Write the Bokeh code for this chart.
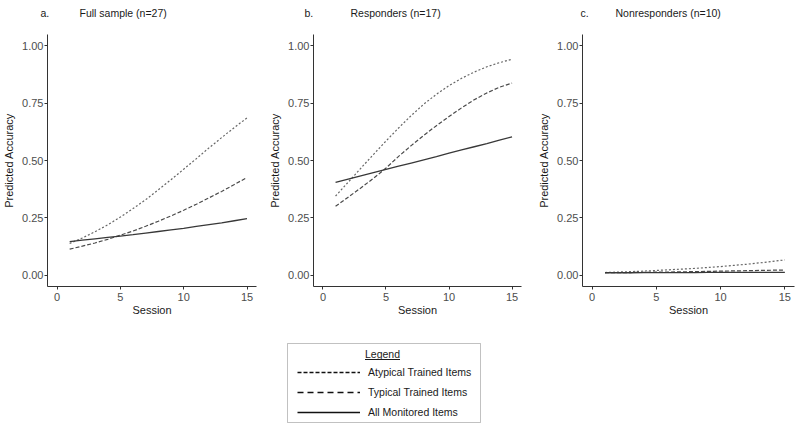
import math
from bokeh.plotting import figure
from bokeh.models import (Range1d, FixedTicker, Label, Legend, LegendItem,
                          BoxAnnotation)
from bokeh.layouts import row, column
from bokeh.embed import file_html
from bokeh.resources import INLINE

# ---------------- data ----------------
sessions = [1, 2, 3, 4, 5, 6, 7, 8, 9, 10, 11, 12, 13, 14, 15]

a_atypical = [0.138, 0.162, 0.189, 0.219, 0.253, 0.290, 0.329, 0.372, 0.416, 0.462, 0.508, 0.555, 0.600, 0.644, 0.686]
a_typical = [0.113, 0.126, 0.140, 0.156, 0.174, 0.192, 0.213, 0.235, 0.258, 0.283, 0.309, 0.337, 0.365, 0.395, 0.426]
a_all = [0.146, 0.152, 0.158, 0.164, 0.170, 0.176, 0.183, 0.190, 0.197, 0.204, 0.212, 0.220, 0.228, 0.237, 0.246]

b_atypical = [0.345, 0.405, 0.466, 0.526, 0.585, 0.642, 0.696, 0.746, 0.789, 0.827, 0.859, 0.886, 0.909, 0.927, 0.942]
b_typical = [0.300, 0.340, 0.380, 0.422, 0.467, 0.518, 0.565, 0.610, 0.652, 0.692, 0.730, 0.765, 0.795, 0.820, 0.838]
b_all = [0.405, 0.419, 0.433, 0.447, 0.461, 0.475, 0.489, 0.503, 0.517, 0.532, 0.546, 0.560, 0.574, 0.589, 0.603]

c_atypical = [0.011, 0.013, 0.015, 0.017, 0.020, 0.023, 0.026, 0.029, 0.033, 0.037, 0.042, 0.047, 0.053, 0.059, 0.066]
c_typical = [0.010, 0.011, 0.011, 0.012, 0.013, 0.013, 0.014, 0.015, 0.016, 0.017, 0.018, 0.019, 0.020, 0.021, 0.022]
c_all = [0.010, 0.010, 0.010, 0.011, 0.011, 0.011, 0.011, 0.011, 0.012, 0.012, 0.012, 0.012, 0.012, 0.012, 0.012]

panel_letters = ["a.", "b.", "c."]
panel_titles = ["Full sample (n=27)", "Responders (n=17)", "Nonresponders (n=10)"]
series_names = ["Atypical Trained Items", "Typical Trained Items", "All Monitored Items"]
x_ticks = [0, 5, 10, 15]
y_ticks = [0.0, 0.25, 0.5, 0.75, 1.0]
y_tick_labels = ["0.00", "0.25", "0.50", "0.75", "1.00"]
x_label = "Session"
y_label = "Predicted Accuracy"
legend_title = "Legend"

FONT = "Liberation Sans"
TOTAL_W = 800

line_styles = [
    dict(line_color="#666666", line_width=1.2, line_dash="2 2"),
    dict(line_color="#4a4a4a", line_width=1.2, line_dash="4 2"),
    dict(line_color="#383838", line_width=1.3, line_dash="solid"),
]
legend_styles = [
    dict(line_color="#111111", line_width=1.5, line_dash="4 2"),
    dict(line_color="#111111", line_width=1.5, line_dash="6 4"),
    dict(line_color="#111111", line_width=1.6, line_dash="solid"),
]

PANEL_H = 299


def make_panel(series, width, b_left, b_right):
    p = figure(width=width, height=PANEL_H, output_backend="svg",
               toolbar_location=None, x_range=Range1d(-0.75, 15.75),
               y_range=Range1d(-0.05, 1.05),
               min_border_left=b_left, min_border_right=b_right,
               min_border_top=8, min_border_bottom=39)
    p.outline_line_color = None
    p.grid.visible = False

    for ax in (p.xaxis[0], p.yaxis[0]):
        ax.axis_line_color = "#333333"
        ax.axis_line_width = 1
        ax.major_tick_line_color = "#333333"
        ax.major_tick_out = 3
        ax.major_tick_in = 0
        ax.minor_tick_line_color = None
        ax.major_label_text_font = FONT
        ax.major_label_text_font_size = "11px"
        ax.major_label_text_color = "#4d4d4d"
        ax.axis_label_text_font = FONT
        ax.axis_label_text_font_size = "11px"
        ax.axis_label_text_font_style = "normal"
        ax.axis_label_text_color = "#1a1a1a"

    p.xaxis.ticker = FixedTicker(ticks=x_ticks)
    p.yaxis.ticker = FixedTicker(ticks=y_ticks)
    p.yaxis.major_label_overrides = {t: l for t, l in zip(y_ticks, y_tick_labels)}
    p.xaxis.axis_label = x_label
    p.xaxis.major_label_standoff = 3
    p.xaxis.axis_label_standoff = 0
    p.yaxis.axis_label = y_label
    p.yaxis.major_label_standoff = 1
    p.yaxis.axis_label_standoff = 4

    for ys, st in zip(series, line_styles):
        p.line(sessions, ys, **st)
    return p


pa = make_panel([a_atypical, a_typical, a_all], 266, 43, 10)
pb = make_panel([b_atypical, b_typical, b_all], 267, 45, 12)
pc = make_panel([c_atypical, c_typical, c_all], 267, 49, 6)

# ---------------- title strip ----------------
TH = 26
pt = figure(width=TOTAL_W, height=TH, output_backend="svg", toolbar_location=None,
            x_range=Range1d(0, TOTAL_W), y_range=Range1d(0, TH),
            min_border_left=0, min_border_right=0, min_border_top=0, min_border_bottom=0)
pt.axis.visible = False
pt.grid.visible = False
pt.outline_line_color = None
letter_x = [40, 304, 580]
title_x = [79, 350, 615]
for i in range(3):
    pt.add_layout(Label(x=letter_x[i], y=TH - 12, text=panel_letters[i],
                        text_align="left", text_baseline="middle",
                        text_font=FONT, text_font_size="10.5px", text_color="#1a1a1a"))
    pt.add_layout(Label(x=title_x[i], y=TH - 12, text=panel_titles[i],
                        text_align="left", text_baseline="middle",
                        text_font=FONT, text_font_size="10.5px", text_color="#1a1a1a"))

# ---------------- legend panel ----------------
LH = 102
pl = figure(width=TOTAL_W, height=LH, output_backend="svg", toolbar_location=None,
            x_range=Range1d(0, TOTAL_W), y_range=Range1d(0, LH),
            min_border_left=0, min_border_right=0, min_border_top=0, min_border_bottom=0)
pl.axis.visible = False
pl.grid.visible = False
pl.outline_line_color = None

items = []
for name, st in zip(series_names, legend_styles):
    r = pl.line(x=[float("nan")], y=[float("nan")], **st)
    items.append(LegendItem(label=name, renderers=[r]))

leg = Legend(items=items, location=(297, 5), padding=0, spacing=0, margin=0,
             glyph_width=63, glyph_height=20, label_height=20, label_standoff=8,
             label_text_font=FONT, label_text_font_size="10.5px",
             label_text_color="#1a1a1a",
             border_line_alpha=0, background_fill_alpha=0)
pl.add_layout(leg, "center")

pl.add_layout(BoxAnnotation(left=287, right=480, bottom=5, top=84,
                            fill_alpha=0, line_color="#333333", line_width=1))
pl.add_layout(Label(x=382, y=74, text=legend_title, text_align="center",
                    text_baseline="middle", text_font=FONT, text_font_size="10.5px",
                    text_color="#1a1a1a"))
pl.add_layout(BoxAnnotation(left=364.5, right=399.5, bottom=67.5, top=68.5,
                            fill_color="#1a1a1a", fill_alpha=1, line_alpha=0))

layout = column(pt, row(pa, pb, pc), pl)
open("out.html", "w").write(file_html(layout, INLINE))
